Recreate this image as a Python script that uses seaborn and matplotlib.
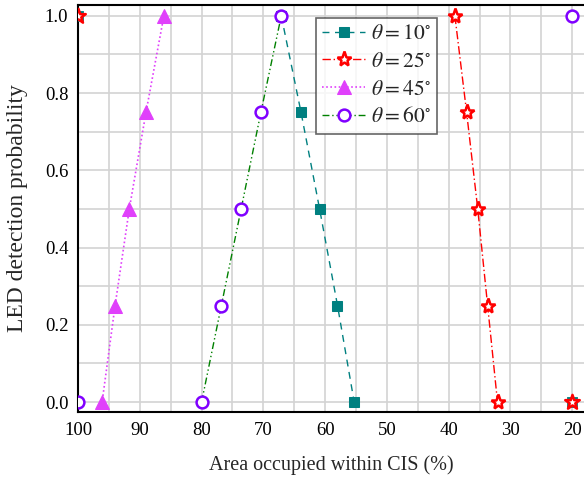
import matplotlib
matplotlib.use("Agg")
import matplotlib.pyplot as plt
import seaborn as sns
import numpy as np
import pandas as pd
from matplotlib.ticker import MultipleLocator

# data
area_10 = [67.1, 63.9, 60.9, 58.0, 55.3]
prob_10 = [1.0, 0.75, 0.5, 0.25, 0.0]
area_25 = [39.0, 37.1, 35.3, 33.7, 32.1]
prob_25 = [1.0, 0.75, 0.5, 0.25, 0.0]
area_45 = [86.1, 89.0, 91.7, 94.0, 96.1]
prob_45 = [1.0, 0.75, 0.5, 0.25, 0.0]
area_60 = [80.0, 76.8, 73.6, 70.4, 67.1]
prob_60 = [0.0, 0.25, 0.5, 0.75, 1.0]
# isolated edge points
edge_10_x, edge_10_y = [100, 20], [1.0, 0.0]
edge_25_x, edge_25_y = [100, 20], [1.0, 0.0]
edge_60_x, edge_60_y = [100, 20], [0.0, 1.0]

labels = [r'$\theta = 10^{\circ}$', r'$\theta = 25^{\circ}$',
          r'$\theta = 45^{\circ}$', r'$\theta = 60^{\circ}$']

sns.set_style("white")
plt.rcParams['font.family'] = ['Liberation Serif', 'DejaVu Serif']
plt.rcParams['mathtext.fontset'] = 'stix'

fig = plt.figure(figsize=(5.84, 4.82), dpi=100)
ax = fig.add_axes([0.1336, 0.145, 0.8664, 0.845])

teal = '#008080'
red = '#FF0000'
mag = '#E040FB'
purp = '#8000FF'
green = '#008000'

sns.lineplot(x=area_10, y=prob_10, ax=ax, sort=False, color=teal, linestyle=(0, (5, 4)),
             lw=1.0, marker='s', markersize=7.5, markeredgecolor=teal, markerfacecolor=teal,
             label=labels[0], zorder=3)
sns.lineplot(x=area_25, y=prob_25, ax=ax, sort=False, color=red, linestyle=(0, (6, 2, 1, 2)),
             lw=1.0, marker='*', markersize=11, markeredgecolor=red, markerfacecolor='white',
             markeredgewidth=1.8, label=labels[1], zorder=3)
sns.lineplot(x=area_45, y=prob_45, ax=ax, sort=False, color=mag, linestyle=(0, (1, 1.5)),
             lw=1.2, marker='^', markersize=10, markeredgecolor=mag, markerfacecolor=mag,
             label=labels[2], zorder=3)
sns.lineplot(x=area_60, y=prob_60, ax=ax, sort=False, color=green, linestyle=(0, (5, 2, 1, 2, 1, 2)),
             lw=1.0, marker='o', markersize=8.5, markeredgecolor=purp, markerfacecolor='white',
             markeredgewidth=1.8, label=labels[3], zorder=4)

sns.scatterplot(x=edge_10_x, y=edge_10_y, ax=ax, marker='s', s=56, color=teal, edgecolor=teal, zorder=3)
sns.scatterplot(x=edge_25_x, y=edge_25_y, ax=ax, marker='*', s=121, color='white', edgecolor=red,
                linewidth=1.8, zorder=4)
sns.scatterplot(x=edge_60_x, y=edge_60_y, ax=ax, marker='o', s=72, color='white', edgecolor=purp,
                linewidth=1.8, zorder=4)

ax.set_xlim(100, 18.1)
ax.set_ylim(-0.026, 1.0285)
ax.xaxis.set_major_locator(MultipleLocator(10))
ax.xaxis.set_minor_locator(MultipleLocator(5))
ax.yaxis.set_major_locator(MultipleLocator(0.2))
ax.yaxis.set_minor_locator(MultipleLocator(0.1))
ax.yaxis.set_major_formatter(matplotlib.ticker.FormatStrFormatter('%.1f'))
ax.grid(True, which='both', color='#d3d3d3', lw=1.2, zorder=0)
ax.set_axisbelow(True)
ax.tick_params(which='major', direction='in', length=6, width=1.5, labelsize=13.5, colors='black', pad=7)
ax.tick_params(which='minor', direction='in', length=3, width=1.2)
for s in ['left', 'bottom', 'top']:
    ax.spines[s].set_color('black')
    ax.spines[s].set_linewidth(1.5)
ax.spines['right'].set_visible(False)

ax.set_xlabel('Area occupied within CIS (%)', fontsize=14.5, labelpad=12)
ax.set_ylabel('LED detection probability', fontsize=17, labelpad=12)

leg = ax.legend(loc='upper left', bbox_to_anchor=(0.470, 0.968), fontsize=15.5, frameon=True,
                fancybox=False, edgecolor='#404040', handlelength=2.0, handletextpad=0.25,
                labelspacing=0.35, borderpad=0.3, borderaxespad=0)
leg.get_frame().set_linewidth(1.2)

fig.savefig('out.png', dpi=100)
